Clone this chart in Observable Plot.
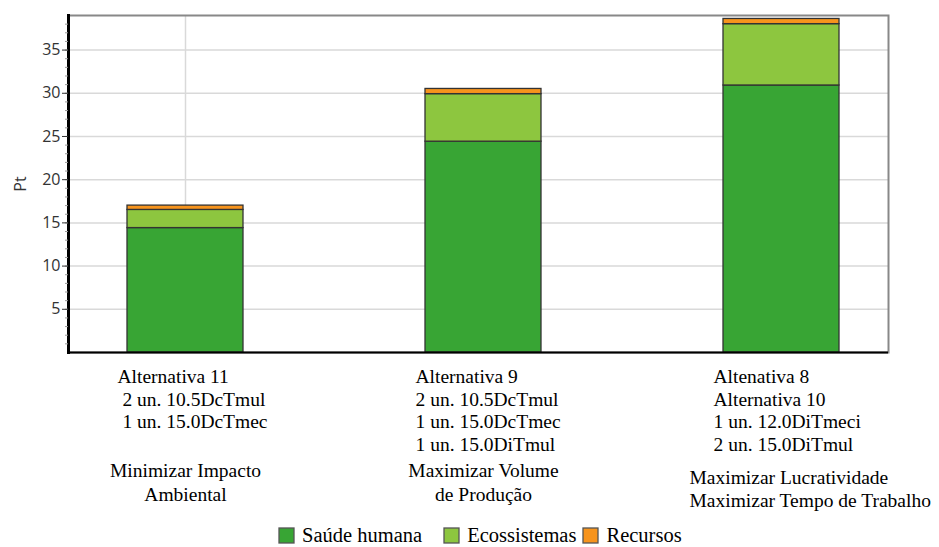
<!DOCTYPE html>
<html><head><meta charset="utf-8">
<script src="https://cdn.jsdelivr.net/npm/d3@7"></script>
<script src="https://cdn.jsdelivr.net/npm/@observablehq/plot@0.6"></script>
<style>
html,body{margin:0;padding:0;background:#fff;overflow:hidden}
#chart{width:939px;height:547px;position:relative;overflow:hidden}
#chart > div{font-family:"Liberation Serif",serif !important;font-size:20.5px !important;color:#000 !important;margin:0 !important;padding:0 0 0 279px !important;min-height:0 !important;height:31px !important;display:flex !important;align-items:flex-end !important;line-height:22px !important}
#chart > div > span{margin-right:0 !important;display:inline-flex !important;align-items:center !important}
#chart > div > span:nth-of-type(1){margin-right:22px !important}
#chart > div > span:nth-of-type(2){margin-right:7px !important}
#chart > div > span > svg{margin-right:8px !important;overflow:visible !important}
#chart > div > span rect{stroke:#555;stroke-width:1.3}
</style></head><body><div id="chart"></div>
<script>
const categories = ["Alternativa 11", "Alternativa 9", "Altenativa 8 / Alternativa 10"];
const series = ["Saúde humana", "Ecossistemas", "Recursos"];
const saudeHumana = [14.4, 24.4, 30.9];
const ecossistemas = [2.1, 5.5, 7.1];
const recursos = [0.5, 0.6, 0.6];
const colors = ["#38a534", "#8dc63f", "#f7941d"];
const yTicks = [5, 10, 15, 20, 25, 30, 35];
const detailLines = [
  ["Alternativa 11", " 2 un. 10.5DcTmul", " 1 un. 15.0DcTmec"],
  ["Alternativa 9", "2 un. 10.5DcTmul", "1 un. 15.0DcTmec", "1 un. 15.0DiTmul"],
  ["Altenativa 8", "Alternativa 10", "1 un. 12.0DiTmeci", "2 un. 15.0DiTmul"]
];
const objectiveLines = [
  ["Minimizar Impacto", "Ambiental"],
  ["Maximizar Volume", "de Produção"],
  ["Maximizar Lucratividade", "Maximizar Tempo de Trabalho"]
];

const valuesBySeries = [saudeHumana, ecossistemas, recursos];
const data = series.flatMap((s, j) => categories.map((c, i) => ({cat: c, series: s, value: valuesBySeries[j][i]})));

const serif = "Liberation Serif, Times New Roman, serif";
const plot = Plot.plot({
  width: 939,
  height: 515,
  marginTop: 15,
  marginBottom: 163,
  marginLeft: 68,
  marginRight: 51,
  style: {fontFamily: "Open Sans, sans-serif", fontSize: "16px", background: "#fff"},
  x: {type: "band", domain: categories, range: [68, 898], paddingInner: 0.611, paddingOuter: 0.198, axis: null},
  y: {domain: [0, 39], axis: null},
  color: {domain: series, range: colors},
  marks: [
    Plot.gridY(yTicks, {stroke: "#d9d9d9", strokeOpacity: 1, strokeWidth: 1.5}),
    Plot.ruleX([categories[0]], {x: d => d, stroke: "#d9d9d9", strokeWidth: 1.5}),
    Plot.frame({stroke: "#888", strokeWidth: 2}),
    Plot.barY(data, {x: "cat", y: "value", fill: "series", stroke: "#333", strokeWidth: 1.3}),
    Plot.ruleY([0], {stroke: "#000", strokeWidth: 2}),
    Plot.frame({anchor: "left", stroke: "#000", strokeWidth: 3}),
    Plot.axisY(d3.range(1, 39), {tickSize: 3, text: null, label: null, stroke: "#999"}),
    Plot.axisY(yTicks, {tickSize: 6, tickPadding: 2, fontSize: 16, color: "#333", label: "Pt", labelAnchor: "center", labelArrow: "none", labelOffset: 54, fontFamily: "Open Sans, sans-serif"}),
    Plot.text(categories, {x: d => d, text: (d, i) => detailLines[i].join("\n"), frameAnchor: "bottom", lineAnchor: "top", textAnchor: "start", dx: -68, dy: 14, fontFamily: serif, fontSize: 19.5, lineHeight: 1.17, fill: "#000"}),
    Plot.text(categories, {filter: (d, i) => i < 2, x: d => d, text: (d, i) => objectiveLines[i].join("\n"), frameAnchor: "bottom", lineAnchor: "top", textAnchor: "middle", dy: 108, fontFamily: serif, fontSize: 19.5, lineHeight: 1.2, fill: "#000"}),
    Plot.text(categories, {filter: (d, i) => i === 2, x: d => d, text: (d, i) => objectiveLines[i].join("\n"), frameAnchor: "bottom", lineAnchor: "top", textAnchor: "start", dx: -92, dy: 116, fontFamily: serif, fontSize: 19.5, lineHeight: 1.15, fill: "#000"})
  ]
});
const chart = document.getElementById("chart");
chart.appendChild(plot);
const legend = plot.legend("color", {swatchSize: 15});
chart.appendChild(legend);
</script></body></html>
